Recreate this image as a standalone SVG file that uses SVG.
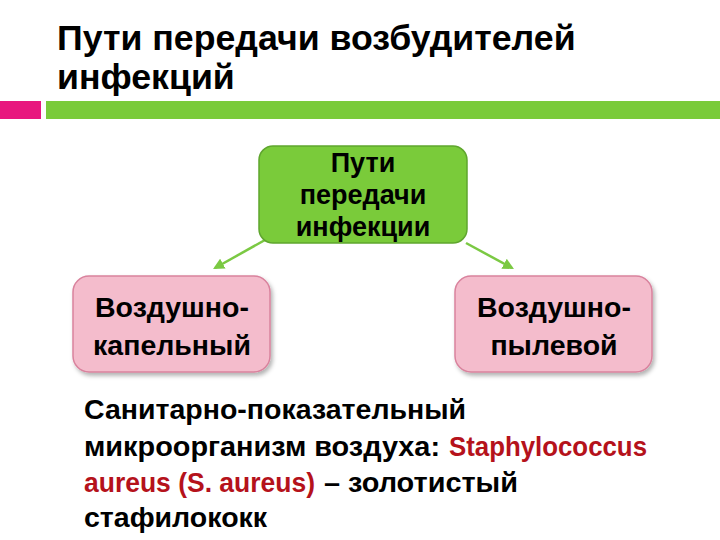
<svg xmlns="http://www.w3.org/2000/svg" width="720" height="540" viewBox="0 0 720 540">
<defs>
<style>
.t{font-family:"Liberation Sans",Arial,sans-serif;font-weight:bold;fill:#000}
.title{font-size:35.7px}
.gn{font-size:27px;text-anchor:middle}
.pn{font-size:28.5px;text-anchor:middle}
.body{font-size:28.5px}
.red{fill:#B5121B}
.con{stroke:#7BC943;stroke-width:2.5;fill:none;marker-end:url(#ah)}
</style>
<marker id="ah" viewBox="0 0 10 10" refX="8" refY="5" markerWidth="4.5" markerHeight="4.5" orient="auto">
<path d="M0,0 L10,5 L0,10 z" fill="#7BC943"/>
</marker>
<filter id="sh" x="-10%" y="-10%" width="125%" height="130%">
<feDropShadow dx="2" dy="3" stdDeviation="2" flood-color="#000" flood-opacity="0.3"/>
</filter>
</defs>
<rect width="720" height="540" fill="#fff"/>
<g id="title">
<text class="t title" x="57" y="50">Пути передачи возбудителей</text>
<text class="t title" x="57" y="89">инфекций</text>
</g>
<g id="bars">
<rect x="0" y="101" width="41" height="18" fill="#E8177E"/>
<rect x="46" y="101" width="674" height="18" fill="#7ACB3A"/>
</g>
<g id="connectors">
<line class="con" x1="265" y1="240" x2="215" y2="268"/>
<line class="con" x1="466" y1="243" x2="512" y2="268"/>
</g>
<g id="root">
<rect x="259" y="146" width="208" height="97" rx="14" fill="#7ACB3A" stroke="#5FA62E" stroke-width="1.5"/>
<text class="t gn" x="363" y="172">Пути</text>
<text class="t gn" x="363" y="204">передачи</text>
<text class="t gn" x="363" y="236">инфекции</text>
</g>
<g id="left">
<rect x="73" y="276" width="197" height="96" rx="16" fill="#F4BCCC" stroke="#D9829D" stroke-width="1.5" filter="url(#sh)"/>
<text class="t pn" x="172" y="317">Воздушно-</text>
<text class="t pn" x="172" y="355">капельный</text>
</g>
<g id="right">
<rect x="455" y="276" width="197" height="96" rx="16" fill="#F4BCCC" stroke="#D9829D" stroke-width="1.5" filter="url(#sh)"/>
<text class="t pn" x="554" y="317">Воздушно-</text>
<text class="t pn" x="554" y="355">пылевой</text>
</g>
<g id="body">
<text class="t body" x="84" y="419">Санитарно-показательный</text>
<text class="t body" x="84" y="456" textLength="356" lengthAdjust="spacingAndGlyphs">микроорганизм воздуха:</text>
<text class="t body red" x="449" y="456" textLength="198" lengthAdjust="spacingAndGlyphs">Staphylococcus</text>
<text class="t body red" x="84" y="492" textLength="231" lengthAdjust="spacingAndGlyphs">aureus (S. aureus)</text>
<text class="t body" x="324" y="492" textLength="194" lengthAdjust="spacingAndGlyphs">– золотистый</text>
<text class="t body" x="84" y="527">стафилококк</text>
</g>
</svg>
